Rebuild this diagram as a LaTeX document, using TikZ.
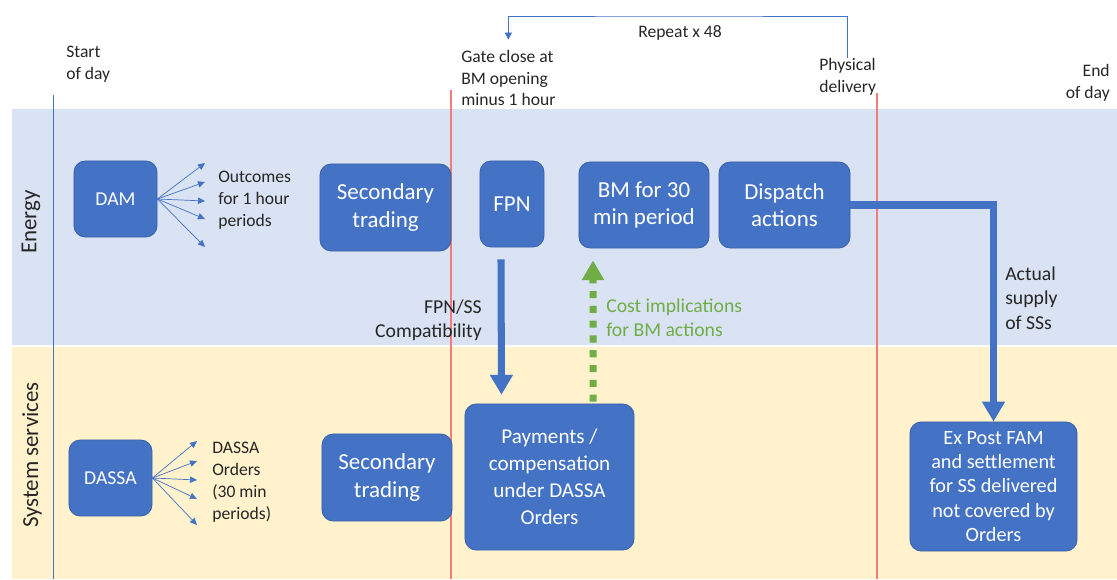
\documentclass[tikz,border=0pt]{standalone}
\usepackage{fontspec}
\setmainfont{Carlito}
\usetikzlibrary{arrows.meta}
\definecolor{boxblue}{HTML}{4472C4}
\definecolor{boxedge}{HTML}{3A62A8}
\definecolor{energybg}{HTML}{DAE3F3}
\definecolor{ssbg}{HTML}{FFF2CC}
\definecolor{gateline}{HTML}{F07C7C}
\definecolor{costgreen}{HTML}{70AD47}
\definecolor{txt}{HTML}{262626}
\newcommand{\lblfont}{\fontsize{12.5}{15.6}\selectfont}
\newcommand{\midfont}{\fontsize{14}{17.3}\selectfont}
\newcommand{\boxfont}{\fontsize{16.3}{19.6}\selectfont}
\tikzset{
  market/.style={draw=boxedge, line width=0.6pt, fill=boxblue, text=white, rounded corners=8pt, align=center, inner sep=0pt},
  lbl/.style={inner sep=0pt, text=txt, font=\lblfont},
  fan/.style={draw=boxblue, line width=0.5pt, -{Triangle[width=4.5pt,length=5pt]}},
  bigarrow/.style={draw=boxblue, line width=5pt, -{Triangle[width=15.6pt,length=14.2pt]}},
}
\begin{document}
\begin{tikzpicture}[x=0.025cm, y=-0.025cm]
\useasboundingbox (0,0) rectangle (1117,579);
\fill[energybg] (12,109) rectangle (1117,345);
\fill[ssbg] (12,347) rectangle (1117,579);
\draw[boxblue, line width=0.5pt] (53,95) -- (53,579);
\draw[gateline, line width=0.8pt] (451,90) -- (451,579);
\draw[gateline, line width=0.8pt] (877,93) -- (877,579);
\node[rotate=90, font=\boxfont, text=txt] (en) at (31,222) {Energy};
\node[rotate=90, font=\boxfont, text=txt] (ss) at (32,455) {System services};
\node[lbl, align=left, anchor=west] (start) at (66,64) {Start\\of day};
\node[lbl, align=left, anchor=west] (gate) at (461,78) {Gate close at\\BM opening\\minus 1 hour};
\node[lbl, align=left, anchor=west] (phys) at (819,77) {Physical\\delivery};
\node[lbl, align=right, anchor=east] (end) at (1110,83) {End\\of day};
\node[lbl] (rep) at (680,33) {Repeat x 48};
\coordinate (repc) at (680,16);
\draw[boxblue, line width=0.5pt, -{Triangle[width=5pt,length=5pt]}, shorten >=0.25cm] (phys.north) |- (repc) -| (gate.north);
\node[market, minimum width=2.075cm, minimum height=1.9cm, font=\fontsize{14}{17}\selectfont] (DAM) at (115.5,199) {DAM};
\node[market, minimum width=3.275cm, minimum height=2.175cm, font=\boxfont] (sec1) at (385.5,207.5) {Secondary\\trading};
\node[market, minimum width=1.6cm, minimum height=2.15cm, font=\boxfont] (FPN) at (512,204) {FPN};
\node[market, minimum width=3.25cm, minimum height=2.15cm, font=\boxfont] (BM) at (644,205) {BM for 30\\min period};
\node[market, minimum width=3.275cm, minimum height=2.15cm, font=\boxfont] (disp) at (784.5,205) {Dispatch\\actions};
\node[market, minimum width=2.075cm, minimum height=1.9cm, font=\fontsize{14}{17}\selectfont] (DASSA) at (110.5,478) {DASSA};
\node[market, minimum width=3.25cm, minimum height=2.175cm, font=\boxfont] (sec2) at (387,477.5) {Secondary\\trading};
\node[market, minimum width=4.225cm, minimum height=3.65cm, font=\fontsize{15}{19.3}\selectfont] (pay) at (549.5,477) {Payments /\\compensation\\under DASSA\\Orders};
\node[market, minimum width=4.175cm, minimum height=3.225cm, font=\fontsize{14.4}{17.2}\selectfont] (expost) at (993.5,486.5) {Ex Post FAM\\and settlement\\for SS delivered\\not covered by\\Orders};
\node[lbl, align=left, anchor=west] (out) at (218,200) {Outcomes\\for 1 hour\\periods};
\foreach \y [count=\i] in {163,182,201,219,247}{
  \coordinate (o\i) at (205,\y);
  \draw[fan] (DAM.east) -- (o\i);
}
\node[lbl, align=left, anchor=west] (ord) at (212,482) {DASSA\\Orders\\(30 min\\periods)};
\foreach \y [count=\i] in {441,461,480,499,525}{
  \coordinate (d\i) at (197,\y);
  \draw[fan] (DASSA.east) -- (d\i);
}
\draw[bigarrow] ([xshift=-0.275cm,yshift=-0.3cm]FPN.south) -- ([xshift=-1.2cm,yshift=0.22cm]pay.north);
\node[lbl, font=\midfont, align=right, anchor=east] (compat) at (482,320) {FPN/SS\\Compatibility};
\draw[draw=costgreen, line width=5pt, dash pattern=on 5pt off 5.5pt, -{Triangle[width=15pt,length=14pt,fill=costgreen,color=costgreen]}, shorten <=0.05cm] ([xshift=1.09cm]pay.north) -- ([xshift=-1.275cm,yshift=-0.3cm]BM.south);
\node[lbl, font=\midfont, text=costgreen, align=left, anchor=west] (cost) at (606,318) {Cost implications\\for BM actions};
\draw[bigarrow, line join=miter] (disp.east) -- (disp.east -| expost.north) -- (expost.north);
\node[lbl, font=\midfont, align=left, anchor=west] (actual) at (1005,298) {Actual\\supply\\of SSs};
\end{tikzpicture}
\end{document}
